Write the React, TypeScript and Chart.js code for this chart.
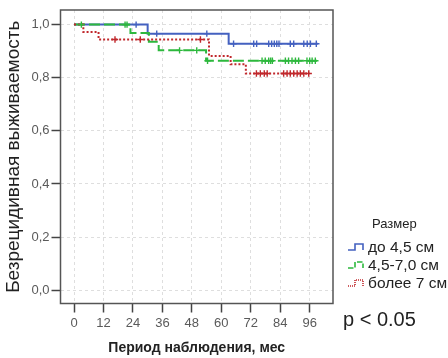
import React, { useEffect, useRef } from "react";
import { Chart, registerables } from "chart.js";

Chart.register(...registerables);

const FONT = '"Liberation Sans", Arial, sans-serif';

// Data (time in months, survival proportion)
const blueTimes = [0, 30, 63, 99.3];
const blueSurv = [1, 0.966, 0.928, 0.928];
const blueCensor = [25.3, 33.7, 54.1, 65, 73.2, 74.4, 79.3, 80.5, 81.6, 82.6, 83.5, 88.1, 89.5, 93.6, 95, 96.3, 98.7];

const greenTimes = [0, 23, 30.5, 34.5, 53.8, 99];
const greenSurv = [1, 0.968, 0.935, 0.903, 0.864, 0.864];
const greenCensor = [3, 20.8, 21.6, 43, 50, 54.4, 76.6, 77.9, 79.3, 80.1, 80.8, 86.1, 87.4, 88.8, 90.2, 91.5, 94.9, 96, 97, 98.3];

const redTimes = [0, 3.8, 10, 55, 63.8, 70, 96];
const redSurv = [1, 0.972, 0.944, 0.882, 0.851, 0.816, 0.816];
const redCensor = [16.7, 27, 51.5, 74.3, 75.9, 77.5, 78.7, 85.4, 86.8, 88.1, 89.5, 90.9, 92.2, 93.6, 95.6];

const seriesLabels = ["до 4,5 см", "4,5-7,0 см", "более 7 см"];
const xTicks = [0, 12, 24, 36, 48, 60, 72, 84, 96];
const yTicks = [0, 0.2, 0.4, 0.6, 0.8, 1.0];

const xTitle = "Период наблюдения, мес";
const yTitle = "Безрецидивная выживаемость";
const legendTitle = "Размер";
const pText = "p < 0.05";

const COLORS = ["#4461c0", "#2db83d", "#c0282c"];
const DASHES: number[][] = [[], [11, 4], [2, 2]];

function survAt(times: number[], surv: number[], t: number) {
  let v = surv[0];
  for (let i = 0; i < times.length; i++) if (times[i] <= t) v = surv[i];
  return v;
}

function curve(times: number[], surv: number[]) {
  return times.map((t, i) => ({ x: t, y: surv[i] }));
}
function censorPts(times: number[], surv: number[], c: number[]) {
  return c.map((t) => ({ x: t, y: survAt(times, surv, t) }));
}

const framePlugin = {
  id: "frame",
  afterDatasetsDraw(chart: any) {
    const { left, top, right, bottom } = chart.chartArea;
    const ctx = chart.ctx;
    ctx.save();
    ctx.strokeStyle = "#555";
    ctx.lineWidth = 1.5;
    ctx.setLineDash([]);
    ctx.strokeRect(left, top, right - left, bottom - top);
    ctx.restore();
  },
};

function LegendIcon({ color, dash }: { color: string; dash: number[] }) {
  return (
    <svg width={20} height={10} style={{ display: "block" }}>
      <path
        d="M1,8 H8 V2 H16 V8"
        fill="none"
        stroke={color}
        strokeWidth={1.6}
        strokeDasharray={dash.length ? dash.map((d) => Math.max(1, d * 0.5)).join(",") : undefined}
      />
    </svg>
  );
}

export default function App() {
  const ref = useRef<HTMLCanvasElement | null>(null);

  useEffect(() => {
    if (!ref.current) return;
    const sets = [
      [blueTimes, blueSurv, blueCensor],
      [greenTimes, greenSurv, greenCensor],
      [redTimes, redSurv, redCensor],
    ] as number[][][];
    const datasets: any[] = [];
    sets.forEach(([t, s, c], i) => {
      datasets.push({
        label: seriesLabels[i],
        data: curve(t, s),
        borderColor: COLORS[i],
        borderWidth: 2,
        borderDash: DASHES[i],
        stepped: "before",
        pointRadius: 0,
        fill: false,
        order: 3 - i,
      });
    });
    sets.forEach(([t, s, c], i) => {
      datasets.push({
        label: seriesLabels[i] + " censored",
        data: censorPts(t, s, c),
        showLine: false,
        borderColor: COLORS[i],
        backgroundColor: COLORS[i],
        pointStyle: "cross",
        pointRadius: 3.2,
        pointBorderWidth: 1.4,
        order: 0,
      });
    });

    const chart = new Chart(ref.current, {
      type: "line",
      data: { datasets },
      plugins: [framePlugin],
      options: {
        animation: false,
        responsive: false,
        maintainAspectRatio: false,
        layout: { padding: { top: 10, right: 115, bottom: 0, left: 0 } },
        plugins: { legend: { display: false }, tooltip: { enabled: false } },
        scales: {
          x: {
            type: "linear",
            min: -5.5,
            max: 105.5,
            afterFit: (s: any) => {
              s.height = 54.5;
            },
            afterBuildTicks: (s: any) => {
              s.ticks = xTicks.map((v) => ({ value: v }));
            },
            ticks: {
              font: { family: FONT, size: 13 },
              color: "#5a5a5a",
              padding: 3,
              maxRotation: 0,
              callback: (v: any) => String(v),
            },
            grid: {
              color: "#dedede",
              lineWidth: 1,
              tickLength: 9,
              tickColor: "#444",
              tickWidth: 1.5,
              tickBorderDash: [],
            },
            border: { display: false, dash: [3, 3] },
            title: {
              display: true,
              text: xTitle,
              font: { family: FONT, size: 14, weight: "bold", lineHeight: 1.2 },
              color: "#222",
              padding: { top: 0, bottom: 1.6 },
            },
          },
          y: {
            type: "linear",
            min: -0.05,
            max: 1.055,
            afterFit: (s: any) => {
              s.width = 60.5;
            },
            afterBuildTicks: (s: any) => {
              s.ticks = yTicks.map((v) => ({ value: v }));
            },
            ticks: {
              font: { family: FONT, size: 13 },
              color: "#5a5a5a",
              padding: 2,
              callback: (v: any) => Number(v).toFixed(1).replace(".", ","),
            },
            grid: {
              color: "#dedede",
              lineWidth: 1,
              tickLength: 9,
              tickColor: "#444",
              tickWidth: 1.5,
              tickBorderDash: [],
            },
            border: { display: false, dash: [3, 3] },
            title: {
              display: true,
              text: yTitle,
              font: { family: FONT, size: 19, lineHeight: 1.2 },
              color: "#222",
              padding: { top: 2.5, bottom: 0 },
            },
          },
        },
      } as any,
    });
    return () => chart.destroy();
  }, []);

  const rowCenters = [247, 265, 283];

  return (
    <div style={{ position: "fixed", left: 0, top: 0, width: 448, height: 358, background: "#fff" }}>
      <canvas ref={ref} width={448} height={358} style={{ position: "absolute", left: 0, top: 0, width: 448, height: 358 }} />
      <div
        style={{
          position: "absolute",
          left: 372,
          top: 216,
          font: `13px ${FONT}`,
          lineHeight: "16px",
          color: "#222",
          whiteSpace: "nowrap",
        }}
      >
        {legendTitle}
      </div>
      {seriesLabels.map((lab, i) => (
        <div
          key={lab}
          style={{
            position: "absolute",
            left: 347,
            top: rowCenters[i] - 9,
            height: 18,
            display: "flex",
            alignItems: "center",
            font: `15.5px ${FONT}`,
            color: "#222",
            whiteSpace: "nowrap",
          }}
        >
          <LegendIcon color={COLORS[i]} dash={DASHES[i]} />
          <span style={{ marginLeft: 1 }}>{lab}</span>
        </div>
      ))}
      <div
        style={{
          position: "absolute",
          left: 343,
          top: 307,
          font: `20px ${FONT}`,
          lineHeight: "24px",
          color: "#222",
          whiteSpace: "nowrap",
        }}
      >
        {pText}
      </div>
    </div>
  );
}
